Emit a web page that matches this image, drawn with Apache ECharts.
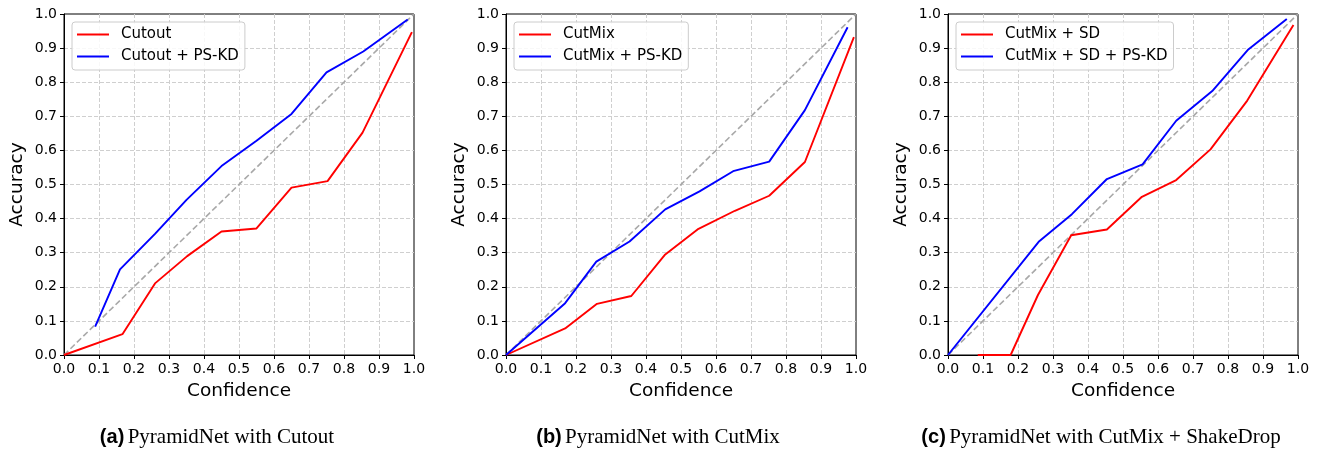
<!DOCTYPE html>
<html>
<head>
<meta charset="utf-8">
<script src="https://cdn.jsdelivr.net/npm/echarts@6/dist/echarts.min.js"></script>
<style>
  html, body { margin: 0; padding: 0; background: #fff; }
  #main { width: 1322px; height: 450px; }
</style>
</head>
<body>
<div id="main"></div>
<script>
// tick labels shared by both axes of every panel
const ticks = ['0.0', '0.1', '0.2', '0.3', '0.4', '0.5', '0.6', '0.7', '0.8', '0.9', '1.0']
const diag = [[0, 0], [1, 1]]

// (a) Cutout
const cutoutX = [0, 0.167, 0.26, 0.352, 0.45, 0.55, 0.65, 0.753, 0.853, 0.994]
const cutoutY = [0, 0.061, 0.21, 0.29, 0.362, 0.371, 0.491, 0.51, 0.652, 0.947]
const cutoutKdX = [0.089, 0.16, 0.26, 0.35, 0.45, 0.55, 0.65, 0.75, 0.855, 0.982]
const cutoutKdY = [0.083, 0.251, 0.355, 0.455, 0.554, 0.628, 0.707, 0.829, 0.89, 0.984]

// (b) CutMix
const cutmixX = [0, 0.169, 0.26, 0.358, 0.455, 0.55, 0.654, 0.752, 0.854, 0.994]
const cutmixY = [0, 0.078, 0.15, 0.173, 0.295, 0.37, 0.423, 0.467, 0.566, 0.932]
const cutmixKdX = [0, 0.169, 0.258, 0.353, 0.455, 0.553, 0.649, 0.752, 0.854, 0.976]
const cutmixKdY = [0, 0.152, 0.274, 0.333, 0.427, 0.48, 0.539, 0.567, 0.718, 0.961]

// (c) CutMix + ShakeDrop
const sdX = [0.085, 0.179, 0.257, 0.352, 0.454, 0.554, 0.652, 0.75, 0.855, 0.987]
const sdY = [0, 0, 0.176, 0.351, 0.368, 0.464, 0.513, 0.603, 0.746, 0.968]
const sdKdX = [0, 0.259, 0.354, 0.454, 0.556, 0.652, 0.755, 0.858, 0.968]
const sdKdY = [0, 0.332, 0.413, 0.516, 0.559, 0.687, 0.774, 0.896, 0.985]

const panels = [
  { left: 64, names: ['Cutout', 'Cutout + PS-KD'], red: [cutoutX, cutoutY], blue: [cutoutKdX, cutoutKdY],
    tag: '(a)', caption: 'PyramidNet with Cutout', capX: 217 },
  { left: 506, names: ['CutMix', 'CutMix + PS-KD'], red: [cutmixX, cutmixY], blue: [cutmixKdX, cutmixKdY],
    tag: '(b)', caption: 'PyramidNet with CutMix', capX: 658 },
  { left: 948, names: ['CutMix + SD', 'CutMix + SD + PS-KD'], red: [sdX, sdY], blue: [sdKdX, sdKdY],
    tag: '(c)', caption: 'PyramidNet with CutMix + ShakeDrop', capX: 1101 }
]

const font = 'DejaVu Sans'
const zip = (xs, ys) => xs.map((x, i) => [x, ys[i]])

const axisBase = {
  type: 'value', min: 0, max: 1, interval: 0.1,
  nameLocation: 'middle',
  nameTextStyle: { fontFamily: font, fontSize: 18.5, color: '#000' },
  axisLine: { show: true, lineStyle: { color: '#000', width: 1 } },
  axisTick: { show: true, length: 4, lineStyle: { color: '#000' } },
  axisLabel: { fontFamily: font, fontSize: 14, color: '#000', margin: 7,
    showMinLabel: true, showMaxLabel: true,
    formatter: (v) => ticks[Math.round(v * 10)] },
  splitLine: { show: true, showMinLine: false, showMaxLine: false,
    lineStyle: { color: '#cfcfcf', width: 1, type: [4, 2] } }
}

const grid = [], xAxis = [], yAxis = [], series = [], legend = [], graphic = []

panels.forEach((p, i) => {
  grid.push({ left: p.left, top: 14, width: 350, height: 341,
    show: true, borderColor: '#000', borderWidth: 1, backgroundColor: 'transparent' })
  xAxis.push(Object.assign({}, axisBase, { gridIndex: i, name: 'Confidence', nameGap: 27 }))
  yAxis.push(Object.assign({}, axisBase, { gridIndex: i, name: 'Accuracy', nameGap: 37 }))
  series.push({
    type: 'line', xAxisIndex: i, yAxisIndex: i, data: diag, showSymbol: false, silent: true,
    lineStyle: { color: '#a8a8a8', width: 1.6, type: [6, 3] }, clip: false
  })
  series.push({
    name: p.names[0], type: 'line', xAxisIndex: i, yAxisIndex: i, data: zip(p.red[0], p.red[1]),
    showSymbol: false, color: '#ff0000', lineStyle: { color: '#ff0000', width: 1.9 }, clip: false
  })
  series.push({
    name: p.names[1], type: 'line', xAxisIndex: i, yAxisIndex: i, data: zip(p.blue[0], p.blue[1]),
    showSymbol: false, color: '#0000ff', lineStyle: { color: '#0000ff', width: 1.9 }, clip: false
  })
  legend.push({
    data: p.names, orient: 'vertical', left: p.left + 8, top: 22,
    icon: 'rect', itemWidth: 32, itemHeight: 2, itemGap: 7,
    padding: [5, 6, 6, 5],
    backgroundColor: 'rgba(255,255,255,0.85)', borderColor: '#cccccc', borderWidth: 1, borderRadius: 3,
    textStyle: { fontFamily: font, fontSize: 15, color: '#000', lineHeight: 15, padding: [0, 0, 0, 7] },
    selectedMode: false
  })
  graphic.push({
    type: 'text', x: p.capX, y: 437,
    style: {
      text: '{b|' + p.tag + '} {s|' + p.caption + '}',
      align: 'center', verticalAlign: 'middle',
      rich: {
        b: { fontFamily: 'Liberation Sans', fontWeight: 'bold', fontSize: 20, fill: '#000' },
        s: { fontFamily: 'Liberation Serif', fontSize: 21, fill: '#000' }
      }
    }
  })
})

const chart = echarts.init(document.getElementById('main'))
chart.setOption({
  animation: false,
  backgroundColor: '#fff',
  grid, xAxis, yAxis, series, legend, graphic
})
</script>
</body>
</html>
